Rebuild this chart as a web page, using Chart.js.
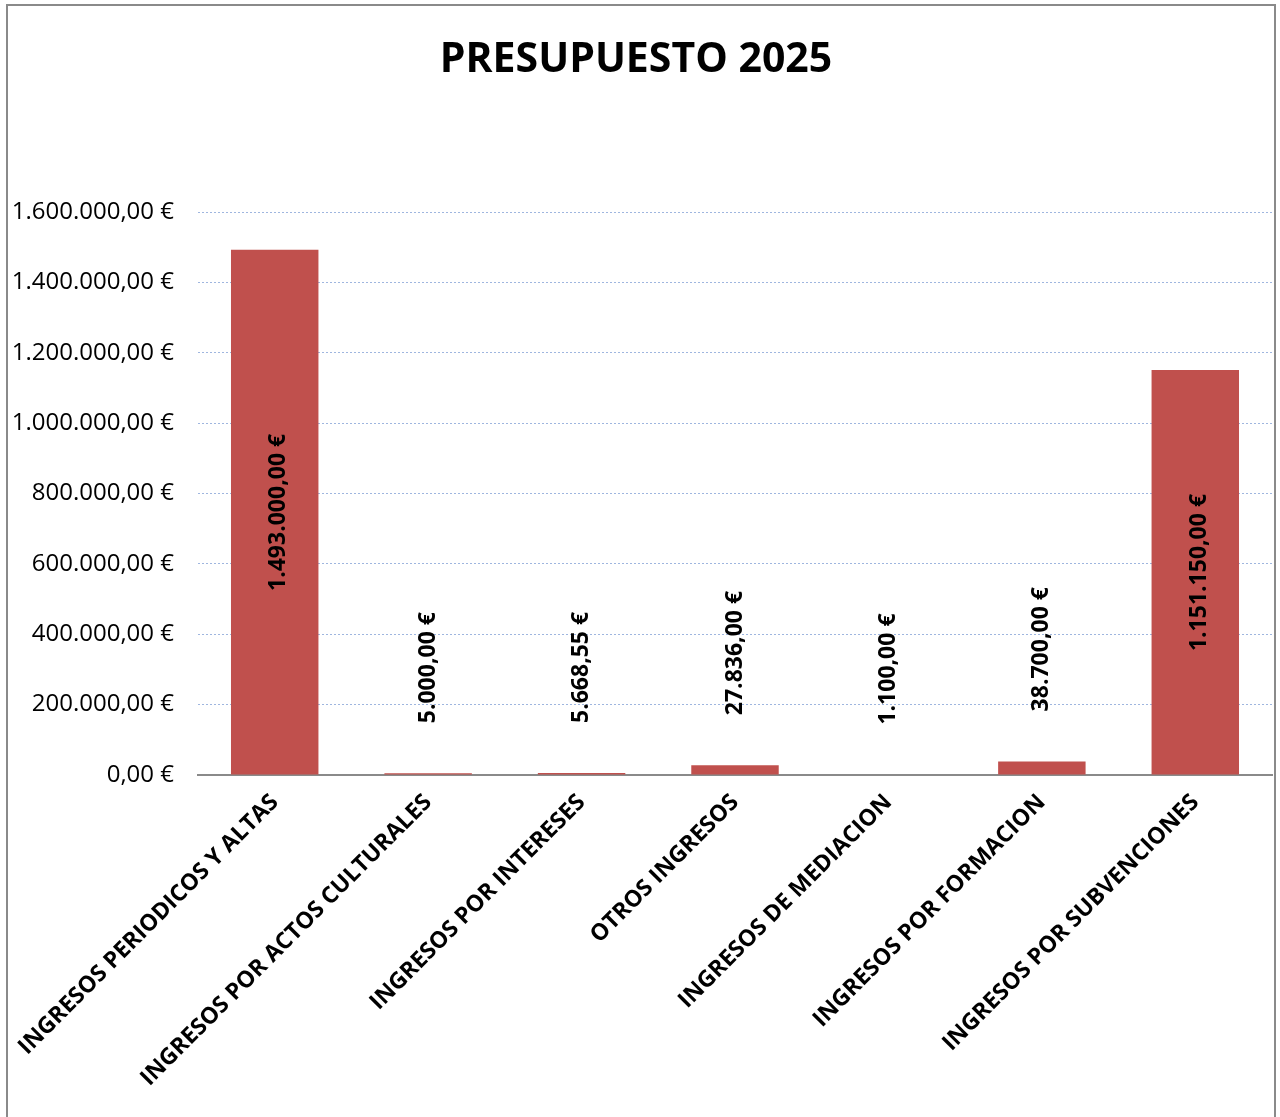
<!DOCTYPE html>
<html>
<head>
<meta charset="utf-8">
<title>Presupuesto 2025</title>
<script src="https://cdn.jsdelivr.net/npm/chart.js@4.4.1/dist/chart.umd.min.js"></script>
<style>
    html, body { margin: 0; padding: 0; background: #fff; overflow: hidden; }
    #wrap { position: relative; width: 1280px; height: 1117px; }
    #frame {
        position: absolute; left: 6px; top: 4px; width: 1266px; height: 1200px;
        border: 2px solid #8a8a8a; pointer-events: none;
    }
</style>
</head>
<body>
<div id="wrap">
    <canvas id="budgetChart" width="1280" height="1117"></canvas>
    <div id="frame"></div>
</div>
<script>
// Chart data
const chartTitle = "PRESUPUESTO 2025";
const categories = [
    "INGRESOS PERIODICOS Y ALTAS",
    "INGRESOS POR ACTOS CULTURALES",
    "INGRESOS POR INTERESES",
    "OTROS INGRESOS",
    "INGRESOS DE MEDIACION",
    "INGRESOS POR FORMACION",
    "INGRESOS POR SUBVENCIONES"
];
const amounts = [1493000, 5000, 5668.55, 27836, 1100, 38700, 1151150];
const yTicks = [0, 200000, 400000, 600000, 800000, 1000000, 1200000, 1400000, 1600000];

const FONT = "'Open Sans', 'Noto Sans', sans-serif";

// Format number as 1.493.000,00 €
function euro(value) {
    const fixed = Math.abs(value).toFixed(2);
    const parts = fixed.split(".");
    const intPart = parts[0].replace(/\B(?=(\d{3})+(?!\d))/g, ".");
    return (value < 0 ? "-" : "") + intPart + "," + parts[1] + " €";
}

// Draw rotated value labels on the bars
const barLabels = {
    id: "barLabels",
    afterDatasetsDraw(chart) {
        const ctx = chart.ctx;
        const meta = chart.getDatasetMeta(0);
        const yScale = chart.scales.y;
        ctx.save();
        ctx.font = "bold 23px " + FONT;
        ctx.fillStyle = "#000";
        ctx.textBaseline = "middle";
        meta.data.forEach((bar, i) => {
            const value = amounts[i];
            const text = euro(value);
            ctx.save();
            if (value > 200000) {
                const mid = (bar.y + yScale.getPixelForValue(0)) / 2;
                ctx.translate(bar.x + 4, mid);
                ctx.rotate(-Math.PI / 2);
                ctx.textAlign = "center";
            } else {
                ctx.translate(bar.x, bar.y - 50);
                ctx.rotate(-Math.PI / 2);
                ctx.textAlign = "left";
            }
            ctx.fillText(text, 0, 0);
            ctx.restore();
        });
        ctx.restore();
    }
};

const ctx = document.getElementById("budgetChart").getContext("2d");

window.budgetChart = new Chart(ctx, {
    type: "bar",
    data: {
        labels: categories,
        datasets: [
            {
                label: chartTitle,
                data: amounts,
                backgroundColor: "#C0504D",
                borderWidth: 0,
                barPercentage: 0.57,
                categoryPercentage: 1.0
            }
        ]
    },
    options: {
        responsive: false,
        animation: false,
        layout: {
            padding: { top: 0, right: 8, bottom: 0, left: 0 }
        },
        scales: {
            x: {
                grid: { display: false },
                border: { display: true, color: "#8a8a8a", width: 2 },
                ticks: {
                    color: "#000",
                    font: { family: FONT, size: 23, weight: "bold" },
                    minRotation: 45,
                    maxRotation: 45,
                    autoSkip: false,
                    padding: 6
                },
                afterFit(scale) {
                    scale.height = 342;
                }
            },
            y: {
                min: 0,
                max: 1600000,
                afterBuildTicks(scale) {
                    scale.ticks = yTicks.map((v) => ({ value: v }));
                },
                grid: {
                    color: (c) => (c.tick && c.tick.value === 0 ? "rgba(0,0,0,0)" : "#9fb6df"),
                    lineWidth: 1,
                    drawTicks: false
                },
                border: { display: false, dash: [2, 2] },
                ticks: {
                    color: "#000",
                    font: { family: FONT, size: 24 },
                    padding: 24,
                    callback: (v) => euro(v)
                },
                afterFit(scale) {
                    scale.width = 198;
                }
            }
        },
        plugins: {
            legend: { display: false },
            tooltip: { enabled: false },
            title: {
                display: true,
                text: chartTitle,
                color: "#000",
                font: { family: FONT, size: 41, weight: "bold" },
                padding: { top: 36, bottom: 127 }
            }
        }
    },
    plugins: [barLabels]
});
</script>
</body>
</html>
